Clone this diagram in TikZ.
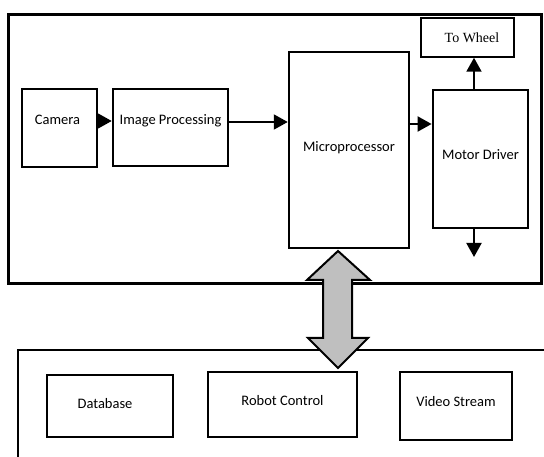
\documentclass[tikz,border=0pt]{standalone}
\usepackage{fontspec}
\setmainfont{Carlito}
\newfontfamily\timesfont{Liberation Serif}
\usetikzlibrary{arrows.meta}
\begin{document}
\begin{tikzpicture}[x=1pt,y=-1pt,
  box/.style={draw=black,line width=2.5pt,rectangle,inner sep=0pt,font=\fontsize{14.5}{16}\selectfont,text=black},
  bigarrow/.style={draw=black,line width=2pt,fill=black!25,line join=miter},
  conn/.style={draw=black,line width=2pt,-{Triangle[length=14pt,width=15pt]}}]
\useasboundingbox (0,0) rectangle (544,457);
% frames
\node[draw=black,line width=2.6pt,minimum width=533pt,minimum height=269pt,inner sep=0pt,anchor=north west] (top) at (7,13) {};
\begin{scope}
\clip (0,0) rectangle (544,457);
\node[draw=black,line width=1.6pt,minimum width=560pt,minimum height=130pt,inner sep=0pt,anchor=north west] (bottom) at (17,349) {};
\end{scope}
% upper blocks
\node[box,line width=2.8pt,minimum width=75pt,minimum height=78pt,text depth=16pt] (cam) at (59.5,128) {\hspace*{-4pt}Camera};
\node[box,minimum width=115pt,minimum height=77pt,text depth=16pt] (ip) at (170.5,127.5) {Image Processing};
\node[box,minimum width=120pt,minimum height=196pt,text depth=6pt] (mp) at (349,150) {Microprocessor};
\node[box,line width=2.8pt,minimum width=95pt,minimum height=138pt,text depth=8pt] (md) at (480.5,159) {Motor Driver};
\node[box,line width=1.5pt,minimum width=93pt,minimum height=39pt,font=\timesfont\fontsize{14}{15}\selectfont] (tw) at (467.5,37.5) {\hspace*{9pt}To Wheel};
% lower blocks
\node[box,line width=2.3pt,minimum width=126pt,minimum height=62pt,text depth=6pt] (db) at (110,406) {\hspace*{-10pt}Database};
\node[box,line width=2.3pt,minimum width=149pt,minimum height=65pt,text depth=8pt] (rc) at (282.5,404.5) {Robot Control};
\node[box,line width=2.3pt,minimum width=112pt,minimum height=68pt,text depth=10pt] (vs) at (456,406) {Video Stream};
% connectors
\draw[conn] (cam.east |- 0,121) -- (ip.west |- 0,121);
\draw[conn] (ip.east |- 0,122) -- (mp.west |- 0,122);
\draw[conn] (mp.east |- 0,124) -- (md.west |- 0,124);
\coordinate (wx) at (474,0);
\coordinate (out) at (474,257);
\draw[conn] (wx |- md.north) -- (wx |- tw.south);
\draw[conn] (wx |- md.south) -- (out);
% double arrow between microprocessor and robot control
\coordinate (abot) at (338,368);
\draw[bigarrow] (338,251) -- (370,280) -- (352,280) -- (352,338) -- (368,338) -- (abot)
  -- (308,338) -- (323,338) -- (323,280) -- (307,280) -- cycle;
\end{tikzpicture}
\end{document}
